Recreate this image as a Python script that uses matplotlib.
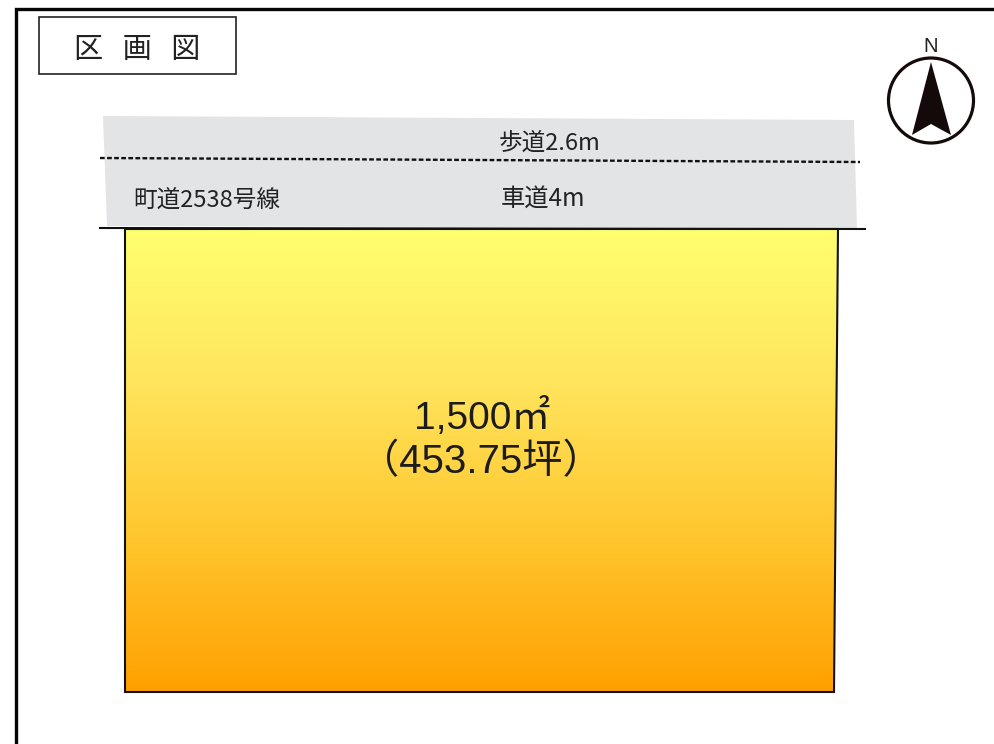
import numpy as np
import matplotlib
matplotlib.use("Agg")
import matplotlib.pyplot as plt
from matplotlib.colors import LinearSegmentedColormap
from matplotlib.patches import Polygon, Circle, Rectangle

FONTS = ['Liberation Sans', 'Noto Sans CJK JP', 'DejaVu Sans']
CJK = ['Noto Sans CJK JP', 'DejaVu Sans']

title_label = "区   画   図"
sidewalk_label = "歩道2.6m"
carriageway_label = "車道4m"
road_label = "町道2538号線"
area_lines = ["1,500㎡", "（453.75坪）"]
north_label = "N"

frame_x = [15.5, 15.5, 995]
frame_y = [744, 8.5, 8.5]
road_outline = [(103, 116), (854, 120), (857, 228), (107, 226)]
lot_outline = [(125, 229), (838, 229), (834, 692), (125, 692)]
dashed_x = [100, 860]
dashed_y = [158, 162]
road_edge_x = [100, 865]
road_edge_y = [228, 229]
arrow_outline = [(931, 62), (951, 135), (931, 124), (912, 135)]
gradient_stops = ["#ffff70", "#ffe45c", "#ffc62e", "#ffa000"]

fig = plt.figure(figsize=(9.95, 7.44), dpi=100, facecolor="white")
ax = fig.add_axes([0, 0, 1, 1])
ax.set_xlim(0, 995)
ax.set_ylim(744, 0)
ax.axis("off")

ax.add_patch(Polygon(road_outline, closed=True, facecolor="#e3e4e6", edgecolor="none", zorder=1))

cmap = LinearSegmentedColormap.from_list("lot", gradient_stops)
ramp = np.linspace(0, 1, 256).reshape(-1, 1)
im = ax.imshow(ramp, cmap=cmap, extent=(125, 838, 692, 229), aspect="auto", zorder=2)
lot = Polygon(lot_outline, closed=True, facecolor="none", edgecolor="#111111", linewidth=1.5, zorder=3)
ax.add_patch(lot)
im.set_clip_path(lot)
ax.set_xlim(0, 995)
ax.set_ylim(744, 0)

ax.plot(dashed_x, dashed_y, color="#111111", linewidth=1.7, dashes=(2.0, 1.0), zorder=4)
ax.plot(road_edge_x, road_edge_y, color="#111111", linewidth=1.5, zorder=4)

ax.plot(frame_x, frame_y, color="#050505", linewidth=2.4, solid_joinstyle="miter", zorder=5)
ax.add_patch(Rectangle((39, 17), 197, 57, facecolor="white", edgecolor="#222222", linewidth=1.2, zorder=5))

ax.add_patch(Circle((931, 100.5), 42.5, facecolor="white", edgecolor="#150a0a", linewidth=2.3, zorder=5))
ax.add_patch(Polygon(arrow_outline, closed=True, facecolor="#150a0a", edgecolor="none", zorder=6))

text_color = "#222222"
ax.text(137.5, 50, title_label, family=CJK, fontsize=21, color=text_color, ha="center", va="center", zorder=7)
ax.text(931, 46, north_label, family=FONTS, fontsize=14.5, color=text_color, ha="center", va="center", zorder=7)
ax.text(550, 143, sidewalk_label, family=CJK, fontsize=17, color=text_color, ha="center", va="center", zorder=7)
ax.text(543, 199, carriageway_label, family=CJK, fontsize=17.5, color=text_color, ha="center", va="center", zorder=7)
ax.text(207, 200, road_label, family=CJK, fontsize=17, color=text_color, ha="center", va="center", zorder=7)
ax.text(482, 418, area_lines[0], family=FONTS, fontsize=28, color="#1c1c1c", ha="center", va="center", zorder=7)
ax.text(481, 462, area_lines[1], family=FONTS, fontsize=29, color="#1c1c1c", ha="center", va="center", zorder=7)

fig.savefig("out.png", dpi=100, facecolor="white")
